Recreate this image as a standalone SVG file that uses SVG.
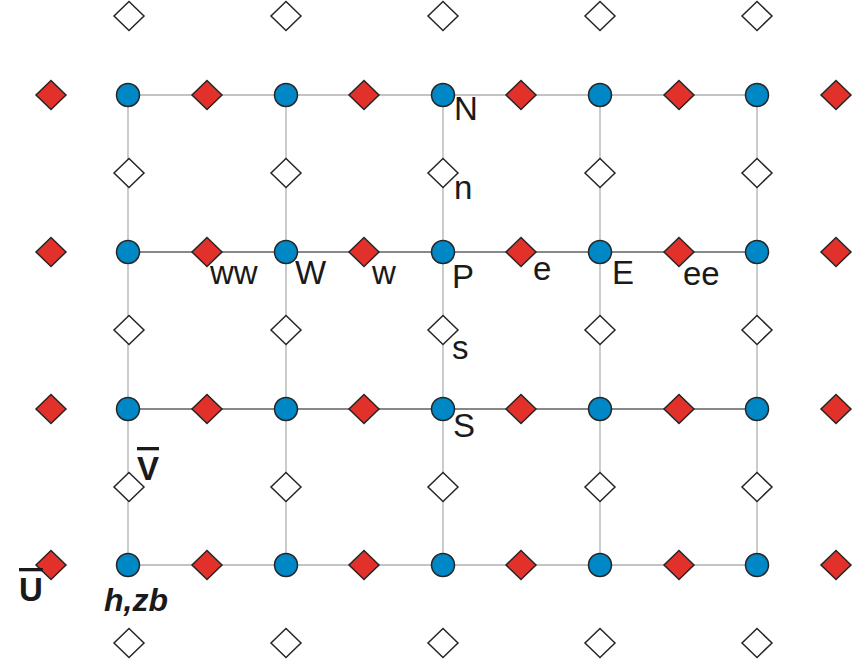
<svg xmlns="http://www.w3.org/2000/svg" width="856" height="659" viewBox="0 0 856 659">
<defs>
<style>
.g{stroke:#b0b0b0;stroke-width:1.3;fill:none}
.gd{stroke:#606060;stroke-width:1.3;fill:none}
.c{fill:#0087c6;stroke:#262626;stroke-width:1.5}
.r{fill:#e2312b;stroke:#262626;stroke-width:1.5}
.w{fill:#fff;stroke:#262626;stroke-width:1.5}
text{font-family:"Liberation Sans",Arial,sans-serif;font-size:33px;fill:#1a1a1a}
.b{font-weight:bold;font-size:33px}
.bi{font-weight:bold;font-style:italic;font-size:32px}
</style>
<circle id="cp" r="11.5" class="c"/>
<path id="rd" d="M0,-14.5 L15,0 L0,14.5 L-15,0 Z" class="r"/>
<path id="wd" d="M0,-14.5 L15,0 L0,14.5 L-15,0 Z" class="w"/>
</defs>
<rect width="856" height="659" fill="#fff"/>
<g id="connectors">
<line class="g" x1="128" y1="95" x2="757" y2="95"/>
<line class="gd" x1="128" y1="252" x2="757" y2="252"/>
<line class="gd" x1="128" y1="409" x2="757" y2="409"/>
<line class="g" x1="128" y1="565" x2="757" y2="565"/>
<line class="g" x1="128" y1="95" x2="128" y2="565"/>
<line class="g" x1="286" y1="95" x2="286" y2="565"/>
<line class="g" x1="443" y1="95" x2="443" y2="565"/>
<line class="g" x1="600" y1="95" x2="600" y2="565"/>
<line class="g" x1="757" y1="95" x2="757" y2="565"/>
</g>
<g id="white-diamonds">
<use href="#wd" x="129" y="16"/><use href="#wd" x="286" y="16"/><use href="#wd" x="443" y="16"/><use href="#wd" x="600" y="16"/><use href="#wd" x="757" y="16"/>
<use href="#wd" x="129" y="173"/><use href="#wd" x="286" y="173"/><use href="#wd" x="443" y="173"/><use href="#wd" x="600" y="173"/><use href="#wd" x="757" y="173"/>
<use href="#wd" x="129" y="330"/><use href="#wd" x="286" y="330"/><use href="#wd" x="443" y="330"/><use href="#wd" x="600" y="330"/><use href="#wd" x="757" y="330"/>
<use href="#wd" x="129" y="487"/><use href="#wd" x="286" y="487"/><use href="#wd" x="443" y="487"/><use href="#wd" x="600" y="487"/><use href="#wd" x="757" y="487"/>
<use href="#wd" x="129" y="643"/><use href="#wd" x="286" y="643"/><use href="#wd" x="443" y="643"/><use href="#wd" x="600" y="643"/><use href="#wd" x="757" y="643"/>
</g>
<g id="red-diamonds">
<use href="#rd" x="51" y="95"/><use href="#rd" x="207" y="95"/><use href="#rd" x="364" y="95"/><use href="#rd" x="521" y="95"/><use href="#rd" x="679" y="95"/><use href="#rd" x="836" y="95"/>
<use href="#rd" x="51" y="252"/><use href="#rd" x="207" y="252"/><use href="#rd" x="364" y="252"/><use href="#rd" x="521" y="252"/><use href="#rd" x="679" y="252"/><use href="#rd" x="836" y="252"/>
<use href="#rd" x="51" y="409"/><use href="#rd" x="207" y="409"/><use href="#rd" x="364" y="409"/><use href="#rd" x="521" y="409"/><use href="#rd" x="679" y="409"/><use href="#rd" x="836" y="409"/>
<use href="#rd" x="51" y="565"/><use href="#rd" x="207" y="565"/><use href="#rd" x="364" y="565"/><use href="#rd" x="521" y="565"/><use href="#rd" x="679" y="565"/><use href="#rd" x="836" y="565"/>
</g>
<g id="circles">
<use href="#cp" x="128" y="95"/><use href="#cp" x="286" y="95"/><use href="#cp" x="443" y="95"/><use href="#cp" x="600" y="95"/><use href="#cp" x="757" y="95"/>
<use href="#cp" x="128" y="252"/><use href="#cp" x="286" y="252"/><use href="#cp" x="443" y="252"/><use href="#cp" x="600" y="252"/><use href="#cp" x="757" y="252"/>
<use href="#cp" x="128" y="409"/><use href="#cp" x="286" y="409"/><use href="#cp" x="443" y="409"/><use href="#cp" x="600" y="409"/><use href="#cp" x="757" y="409"/>
<use href="#cp" x="128" y="565"/><use href="#cp" x="286" y="565"/><use href="#cp" x="443" y="565"/><use href="#cp" x="600" y="565"/><use href="#cp" x="757" y="565"/>
</g>
<g id="labels">
<text x="454" y="120">N</text>
<text x="454" y="199">n</text>
<text x="210" y="284">ww</text>
<text x="295" y="284">W</text>
<text x="372" y="284">w</text>
<text x="452" y="288">P</text>
<text x="533" y="280">e</text>
<text x="612" y="284">E</text>
<text x="683" y="285">ee</text>
<text x="452" y="359">s</text>
<text x="453" y="437">S</text>
<text class="b" x="137" y="480" style="text-decoration:overline">V</text>
<text class="b" x="19" y="601" style="text-decoration:overline">U</text>
<text class="bi" x="104" y="611">h,zb</text>
</g>
</svg>
